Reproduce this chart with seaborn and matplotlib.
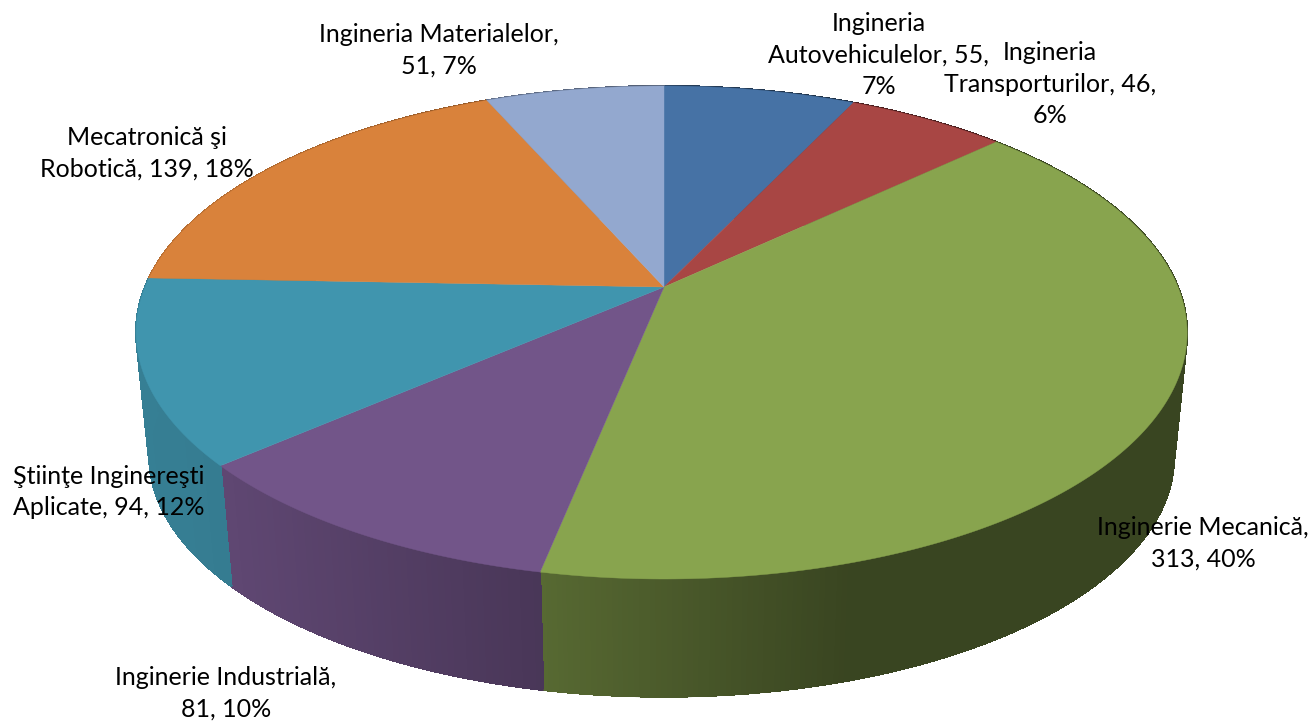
import matplotlib
matplotlib.use("Agg")
import matplotlib.pyplot as plt
import numpy as np
import seaborn as sns
from matplotlib.patches import Polygon

names = ["Ingineria\nAutovehiculelor, 55,\n7%", "Ingineria\nTransporturilor, 46,\n6%",
         "Inginerie Mecanică,\n313, 40%", "Inginerie Industrială,\n81, 10%",
         "Ştiinţe Inginereşti\nAplicate, 94, 12%", "Mecatronică şi\nRobotică, 139, 18%",
         "Ingineria Materialelor,\n51, 7%"]
values = [55, 46, 313, 81, 94, 139, 51]
colors = ["#4672a5", "#a84644", "#88a44e", "#725589", "#4095ae", "#d9823b", "#93a8cf"]

# label centres in pixels
label_x = [879, 1050, 1203, 226, 109, 147, 439]
label_y = [55, 84, 543, 693, 492, 153, 50]

# perspective of the disc, fitted from the reference
CX, CY = 664, 287
A, B, K = 516.5, 238.1, 0.1846
BOTTOM_SCALE, BOTTOM_Y = 0.975, 412


def project(theta, r=1.0, bottom=False):
    """theta clockwise from the top of the disc, radians"""
    x = r * np.sin(theta)
    y = -r * np.cos(theta)
    w = 1 - K * y
    # rim sits slightly left of the apex in the reference
    px, py = A * x / w - 2.5 * x * x, B * y / w
    if bottom:
        return CX + BOTTOM_SCALE * px, BOTTOM_Y + BOTTOM_SCALE * py
    return CX + px, CY + py


sns.set_theme(style="white")
plt.rcParams['font.family'] = ['Lato', 'Noto Sans', 'DejaVu Sans']

fig, ax = plt.subplots(figsize=(13.15, 7.21), dpi=100)
fig.subplots_adjust(0, 0, 1, 1)
ax.set_xlim(0, 1315)
ax.set_ylim(721, 0)
ax.axis("off")

edges = np.deg2rad(np.cumsum([0] + values) / sum(values) * 360)

# side wall, thin strips that get darker to the right
for i, color in enumerate(colors):
    ramp = sns.blend_palette(["#000000", color], 1001)
    steps = np.linspace(edges[i], edges[i + 1], max(3, int((edges[i + 1] - edges[i]) * 450)))
    for t0, t1 in zip(steps[:-1], steps[1:]):
        x0, y0 = project(t0)
        x1, y1 = project(t1)
        x2, y2 = project(t1, bottom=True)
        x3, y3 = project(t0, bottom=True)
        shade = np.interp((x0 + x1) / 2, [136, 230, 540, 850, 1187], [0.85, 0.83, 0.64, 0.42, 0.42])
        c = ramp[int(shade * 1000)]
        ax.add_patch(Polygon([(x0, y0), (x1, y1), (x2, y2), (x3, y3)], closed=True,
                             facecolor=c, edgecolor=c, linewidth=0.8, antialiased=False))
        # smooth outer rim, the strips themselves are not antialiased
        ax.plot([x3, x2], [y3, y2], color=c, linewidth=1.0, solid_capstyle="round", zorder=1.5)

# top of the pie
for i, color in enumerate(colors):
    steps = np.linspace(edges[i], edges[i + 1], 200)
    xs, ys = project(steps)
    pts = [(CX, CY)] + list(zip(xs, ys))
    ax.add_patch(Polygon(pts, closed=True, facecolor=color, edgecolor=color, linewidth=0.3, zorder=2))

for name, lx, ly in zip(names, label_x, label_y):
    ax.text(lx, ly, name, ha="center", va="center", fontsize=18, color="black",
            linespacing=1.45, zorder=5)

fig.savefig("out.png", dpi=100)
